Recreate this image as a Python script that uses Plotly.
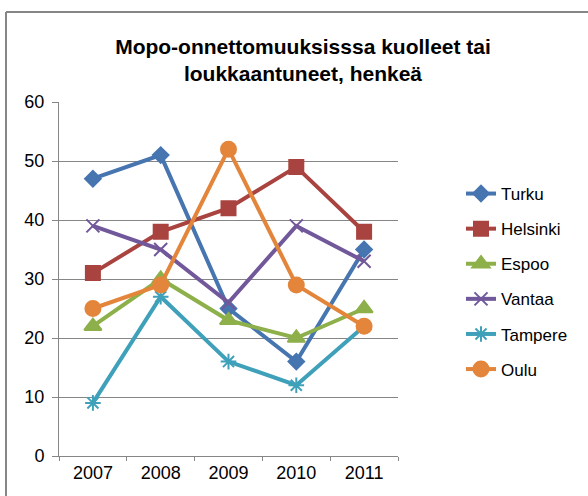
import plotly.graph_objects as go

years = ["2007", "2008", "2009", "2010", "2011"]
turku = [47, 51, 25, 16, 35]
helsinki = [31, 38, 42, 49, 38]
espoo = [22, 30, 23, 20, 25]
vantaa = [39, 35, 26, 39, 33]
tampere = [9, 27, 16, 12, 22]
oulu = [25, 29, 52, 29, 22]

series = [
    ("Turku", turku, "#4675B0", "diamond", 12),
    ("Helsinki", helsinki, "#A9433F", "square", 14),
    ("Espoo", espoo, "#8DB04A", "triangle-up", 15),
    ("Vantaa", vantaa, "#71589A", "x-thin-open", 13),
    ("Tampere", tampere, "#3FA0BA", "asterisk-open", 13),
    ("Oulu", oulu, "#E3853B", "circle", 15),
]

fig = go.Figure()
for name, vals, col, sym, sz in series:
    fig.add_trace(go.Scatter(
        x=years, y=vals, name=name, mode="lines+markers",
        line=dict(color=col, width=4),
        marker=dict(symbol=sym, size=sz, color=col,
                    line=dict(color=col, width=2)),
        legendgroup=name,
    ))

L, R, T, B = 59, 190, 102, 40
W, H = 588, 496
pw, ph = W - L - R, H - T - B

def px_x(x):
    return (x - L) / pw

def px_y(y):
    return (H - B - y) / ph

fig.update_layout(
    width=W, height=H,
    margin=dict(l=L, r=R, t=T, b=B, pad=0),
    paper_bgcolor="white", plot_bgcolor="white",
    font=dict(family="Liberation Sans, Arial, sans-serif", color="black", size=17),
    title=dict(
        text="<b>Mopo-onnettomuuksisssa kuolleet tai<br>loukkaantuneet, henkeä</b>",
        x=303 / W, xref="container", xanchor="center",
        y=1 - 54 / H, yref="container", yanchor="middle",
        font=dict(size=21, color="black"),
    ),
    showlegend=True,
    legend=dict(
        x=px_x(461), xanchor="left", y=px_y(176), yanchor="top",
        font=dict(size=17), tracegroupgap=10, bgcolor="rgba(0,0,0,0)",
    ),
    xaxis=dict(
        type="category", range=[-0.5, 4.5], tickson="boundaries",
        ticks="outside", ticklen=4, tickcolor="#868686",
        showline=True, linecolor="#868686", linewidth=1,
        showgrid=False, tickfont=dict(size=18), fixedrange=True,
    ),
    yaxis=dict(
        range=[0, 60], dtick=10, ticks="outside", ticklen=6,
        tickcolor="#868686", showline=True, linecolor="#868686", linewidth=1,
        showgrid=True, gridcolor="#868686", gridwidth=1,
        zeroline=False, tickfont=dict(size=18), fixedrange=True,
        ticklabelstandoff=4,
    ),
    shapes=[
        dict(type="line", xref="paper", yref="paper",
             x0=px_x(6), x1=px_x(W + 10), y0=px_y(12), y1=px_y(12),
             line=dict(color="#868686", width=2)),
        dict(type="line", xref="paper", yref="paper",
             x0=px_x(6), x1=px_x(6), y0=px_y(12), y1=px_y(H + 10),
             line=dict(color="#868686", width=2)),
    ],
)

fig.write_html("out.html", config={"displayModeBar": False},
               post_script="document.body.style.margin='0';")
